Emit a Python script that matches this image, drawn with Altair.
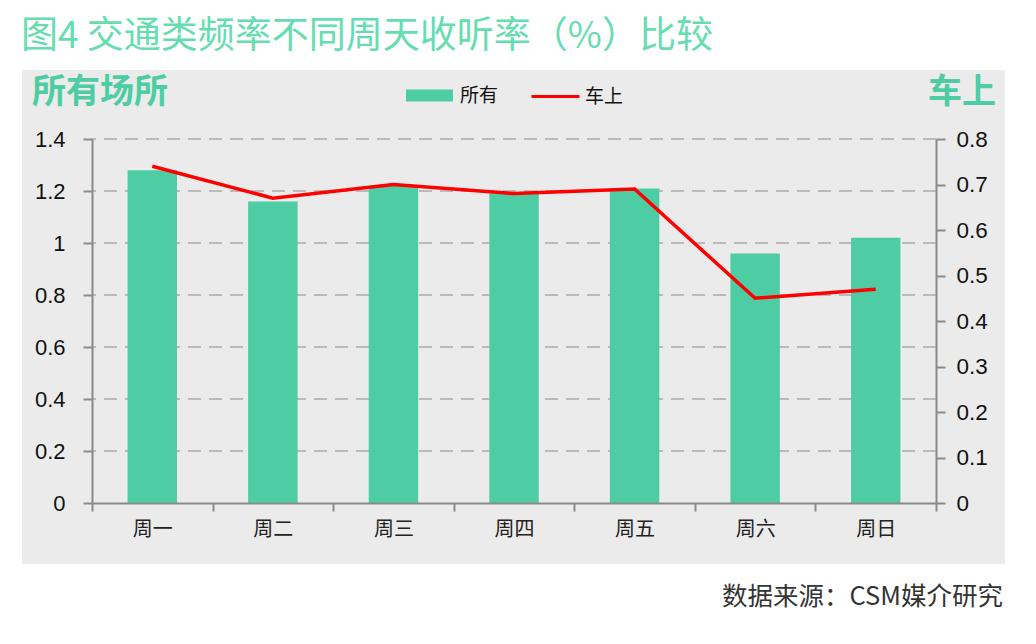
import altair as alt
import pandas as pd

days = ["周一", "周二", "周三", "周四", "周五", "周六", "周日"]
all_places = [1.28, 1.16, 1.22, 1.19, 1.21, 0.96, 1.02]
in_car = [0.74, 0.67, 0.70, 0.68, 0.69, 0.45, 0.47]
left_ticks = [0, 0.2, 0.4, 0.6, 0.8, 1.0, 1.2, 1.4]
right_ticks = [0, 0.1, 0.2, 0.3, 0.4, 0.5, 0.6, 0.7, 0.8]
grid_values = [0.2, 0.4, 0.6, 0.8, 1.0, 1.2, 1.4]

title_text = "图4 交通类频率不同周天收听率（%）比较"
left_label = "所有场所"
right_label = "车上"
source_text = "数据来源：CSM媒介研究"

GREEN = "#4ECCA3"
RED = "#FF0000"
AXIS_GRAY = "#8a8a8a"
FONT = "Liberation Sans, Noto Sans CJK SC"
CJK = "Noto Sans CJK SC"

df = pd.DataFrame({"day": days, "所有": all_places, "车上": in_car})
grid_df = pd.DataFrame({"g": grid_values})
one = pd.DataFrame({"a": [0]})

x_enc = alt.X(
    "day:N", sort=days, title=None,
    scale=alt.Scale(paddingInner=0, paddingOuter=0),
    axis=alt.Axis(tickBand="extent", tickSize=8, tickWidth=2, tickColor=AXIS_GRAY,
                  domainColor=AXIS_GRAY, domainWidth=2, labelFontSize=20,
                  labelColor="#222", labelPadding=8, labelAngle=0, labelFont=CJK,
                  zindex=1, grid=False),
)

left_scale = alt.Scale(domain=[0, 1.4], nice=False)
left_axis = alt.Axis(values=left_ticks, format="~g", title=None, grid=False,
                     tickSize=9, tickWidth=2, tickColor=AXIS_GRAY, domainColor=AXIS_GRAY,
                     domainWidth=2, labelFontSize=22, labelColor="#111",
                     labelPadding=18, zindex=1)

right_axis = alt.Axis(values=right_ticks, format="~g", title=None, grid=False, orient="right",
                      tickSize=9, tickWidth=2, tickColor=AXIS_GRAY, domainColor=AXIS_GRAY,
                      domainWidth=2, labelFontSize=22.5, labelColor="#111",
                      labelPadding=11, zindex=1)

bg = alt.Chart(one).mark_rect(color="#ebebeb").encode(
    x=alt.value(-70), x2=alt.value(913), y=alt.value(-69), y2=alt.value(425)
)

grid = alt.Chart(grid_df).mark_rule(color=AXIS_GRAY, strokeWidth=1, strokeDash=[13, 8]).encode(
    y=alt.Y("g:Q", scale=left_scale, axis=left_axis)
)

bars = alt.Chart(df).transform_calculate(s1="'所有'").mark_bar(
    width=alt.RelativeBandSize(0.41)
).encode(
    x=x_enc,
    y=alt.Y("所有:Q", scale=left_scale, axis=left_axis),
    color=alt.Color("s1:N", scale=alt.Scale(domain=["所有"], range=[GREEN]),
                    legend=alt.Legend(title=None, orient="none", legendX=313, legendY=-68,
                                      symbolType="M-1,-0.26H1V0.26H-1Z", symbolSize=2209,
                                      symbolOpacity=1, labelFontSize=19, labelFont=CJK,
                                      labelColor="#111", labelOffset=6)),
)

left_layer = alt.layer(grid, bars)

line = alt.Chart(df).transform_calculate(s2="'车上'").mark_line(strokeWidth=3.5).encode(
    x=x_enc,
    y=alt.Y("车上:Q", scale=alt.Scale(domain=[0, 0.8], nice=False), axis=right_axis),
    stroke=alt.Stroke("s2:N", scale=alt.Scale(domain=["车上"], range=[RED]),
                      legend=alt.Legend(title=None, orient="none", legendX=438, legendY=-68,
                                        symbolType="stroke", symbolSize=2304,
                                        symbolStrokeWidth=3, labelFontSize=19, labelFont=CJK,
                                        labelColor="#111", labelOffset=4)),
)

title = alt.Chart(one).mark_text(
    text=title_text, align="left", baseline="middle", fontSize=37, font=CJK,
    color="#66DDB0"
).encode(x=alt.value(-71), y=alt.value(-102))

lab_left = alt.Chart(one).mark_text(
    text=left_label, align="left", baseline="middle", fontSize=34, font=CJK,
    fontWeight="bold", color=GREEN
).encode(x=alt.value(-60), y=alt.value(-46))

lab_right = alt.Chart(one).mark_text(
    text=right_label, align="right", baseline="middle", fontSize=34, font=CJK,
    fontWeight="bold", color=GREEN
).encode(x=alt.value(904), y=alt.value(-46))

source = alt.Chart(one).mark_text(
    text=source_text, align="right", baseline="middle", fontSize=25.5, font=CJK,
    color="#333"
).encode(x=alt.value(911), y=alt.value(458))

chart = alt.layer(bg, left_layer, line, title, lab_left, lab_right, source).resolve_scale(
    y="independent"
).properties(
    width=844, height=364,
    autosize=alt.AutoSizeParams(type="none"),
    padding={"left": 84, "top": 131, "right": 80, "bottom": 128},
    background="white",
).configure(font=FONT).configure_view(stroke=None)

chart.save("out.html", embed_options={"renderer": "svg", "actions": False})
